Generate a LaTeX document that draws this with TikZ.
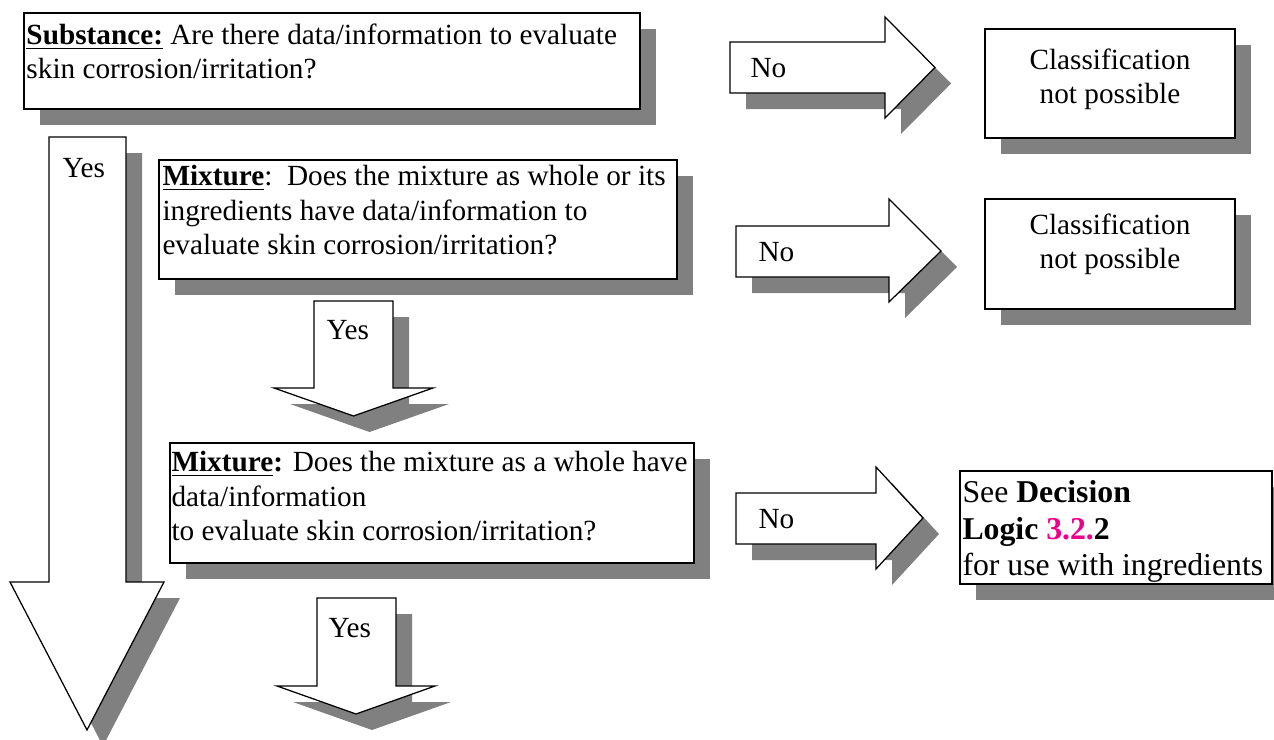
\documentclass[tikz,border=0pt]{standalone}
\usepackage{fontspec}
\setmainfont{Liberation Serif}
\usepackage{xcolor}
\usepackage{tikz}
\usetikzlibrary{shadows}
\definecolor{shadowgray}{HTML}{808080}

\tikzset{
  flatshadow/.style={drop shadow={shadow xshift=6.4pt, shadow yshift=-6.4pt, fill=shadowgray, opacity=1}},
  qbox/.style={draw, line width=0.6pt, fill=white, inner sep=0pt, flatshadow},
  blockarrow/.style={draw, line width=0.5pt, fill=white, line join=miter, flatshadow},
  qtext/.style={inner sep=0pt, align=left, font=\fontsize{11.7}{13.8}\selectfont},
  atext/.style={inner sep=0pt, anchor=base west, font=\fontsize{11.7}{13.8}\selectfont},
}

\begin{document}
\begin{tikzpicture}[x=0.4pt, y=-0.4pt]
\useasboundingbox (0,0) rectangle (1274,740);

\filldraw[blockarrow] (49,137) -- (126,137) -- (126,582) -- (164,582) -- (87,730) -- (10,582) -- (49,582) -- cycle;
\node[atext] (yesbig) at (62,177) {Yes};

\node[qbox, minimum width=246.4pt, minimum height=38.4pt] (subst) at (332,61) {};
\node[qtext, anchor=north west] (subst-q) at (26,23) {\underline{\textbf{Substance:}} Are there data/information to evaluate\\skin corrosion/irritation?};

\filldraw[blockarrow] (730,42) -- (885,42) -- (885,17) -- (935,67.5) -- (885,118) -- (885,93) -- (730,93) -- cycle;
\node[atext] (noone) at (750,78) {No};

\node[qbox, minimum width=100pt, minimum height=43.6pt] (classone) at (1110,83.5) {};
\node[qtext, align=center, anchor=north] (classone-q) at (1110,48) {Classification\\not possible};

\node[qbox, minimum width=207.2pt, minimum height=47.6pt] (mixone) at (418,219.5) {};
\node[qtext, anchor=north west] (mixone-q) at (162,165) {\underline{\textbf{Mixture}}:\ \ Does the mixture as whole or its\\ingredients have data/information to\\evaluate skin corrosion/irritation?};

\filldraw[blockarrow] (736,226) -- (889,226) -- (889,199) -- (941,251) -- (889,302) -- (889,277) -- (736,277) -- cycle;
\node[atext] (notwo) at (758,261) {No};

\node[qbox, minimum width=100pt, minimum height=44pt] (classtwo) at (1110,254) {};
\node[qtext, align=center, anchor=north] (classtwo-q) at (1110,213) {Classification\\not possible};

\filldraw[blockarrow] (314,301) -- (393,301) -- (393,388) -- (433,388) -- (353.5,416) -- (274,388) -- (314,388) -- cycle;
\node[atext] (yestwo) at (326,339) {Yes};

\node[qbox, minimum width=209.6pt, minimum height=48pt] (mixtwo) at (432,503) {};
\node[qtext, anchor=north west] (mixtwo-q) at (171,451) {\underline{\textbf{Mixture}}\textbf{:} Does the mixture as a whole have\\data/information\\to evaluate skin corrosion/irritation?};

\filldraw[blockarrow] (736,493) -- (876,493) -- (876,467) -- (923,518) -- (876,569) -- (876,544) -- (736,544) -- cycle;
\node[atext] (nothree) at (758,528) {No};

\node[qbox, minimum width=124.8pt, minimum height=45.2pt] (seelogic) at (1116,527.5) {};
\node[qtext, anchor=north west, font=\fontsize{12.7}{14.6}\selectfont] (seelogic-q) at (962,480) {See \textbf{Decision}\\\textbf{Logic \textcolor{magenta}{3.2.}2}\\for use with ingredients};

\filldraw[blockarrow] (317,598) -- (396,598) -- (396,686) -- (435,686) -- (356,714) -- (277,686) -- (317,686) -- cycle;
\node[atext] (yesthree) at (328,637) {Yes};

\end{tikzpicture}
\end{document}
